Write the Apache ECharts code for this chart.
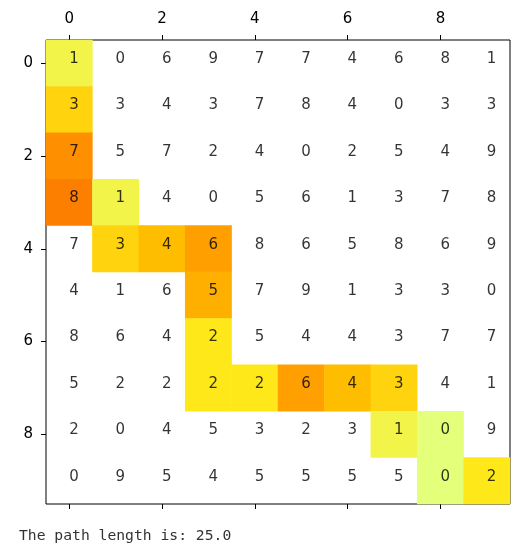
<!DOCTYPE html>
<html>
<head>
<meta charset="utf-8">
<script src="https://cdn.jsdelivr.net/npm/echarts@6/dist/echarts.min.js"></script>
<style>
html,body{margin:0;padding:0;background:#fff;}
#chart{width:526px;height:559px;}
</style>
</head>
<body>
<div id="chart"></div>
<script>
var categories = ['0','1','2','3','4','5','6','7','8','9'];
var gridValues = [
  [1,0,6,9,7,7,4,6,8,1],
  [3,3,4,3,7,8,4,0,3,3],
  [7,5,7,2,4,0,2,5,4,9],
  [8,1,4,0,5,6,1,3,7,8],
  [7,3,4,6,8,6,5,8,6,9],
  [4,1,6,5,7,9,1,3,3,0],
  [8,6,4,2,5,4,4,3,7,7],
  [5,2,2,2,2,6,4,3,4,1],
  [2,0,4,5,3,2,3,1,0,9],
  [0,9,5,4,5,5,5,5,0,2]
];
var pathRows = [0,1,2,3,3,4,4,4,5,6,7,7,7,7,7,8,8,9,9];
var pathCols = [0,0,0,0,1,1,2,3,3,3,3,4,5,6,7,7,8,8,9];
var wistiaColors = ['#e4ff7a','#ffe81a','#ffbd00','#ffa000','#fc7f00'];
var pathLengthText = 'The path length is: 25.0';

var heatData = [];
for (var k = 0; k < pathRows.length; k++) {
  heatData.push([pathCols[k], pathRows[k], gridValues[pathRows[k]][pathCols[k]]]);
}
var textData = [];
for (var r = 0; r < gridValues.length; r++) {
  for (var c = 0; c < gridValues[r].length; c++) {
    textData.push([c, r, gridValues[r][c]]);
  }
}
var pathVals = heatData.map(function(d){return d[2];});
var vmin = Math.min.apply(null, pathVals), vmax = Math.max.apply(null, pathVals);

var chart = echarts.init(document.getElementById('chart'), null, {renderer:'canvas'});
var fontFam = '"DejaVu Sans", sans-serif';
var evenOnly = function(i){ return i % 2 === 0; };
chart.setOption({
  animation: false,
  backgroundColor: '#fff',
  grid: {left: 46, top: 40, width: 464, height: 464, show: true, borderColor: '#000', borderWidth: 1, backgroundColor: 'transparent', containLabel: false},
  xAxis: [
    {type: 'category', data: categories, position: 'top', gridIndex: 0,
     axisLine: {show: false}, splitLine: {show: false},
     axisTick: {show: true, alignWithLabel: true, interval: evenOnly, length: 5, lineStyle: {color: '#000', width: 1}},
     axisLabel: {interval: evenOnly, margin: 13, color: '#000', fontSize: 15, fontFamily: fontFam}},
    {type: 'category', data: categories, position: 'bottom', gridIndex: 0,
     axisLine: {show: false}, splitLine: {show: false},
     axisTick: {show: true, alignWithLabel: true, interval: evenOnly, length: 5, lineStyle: {color: '#000', width: 1}},
     axisLabel: {show: false}}
  ],
  yAxis: [
    {type: 'category', data: categories, inverse: true, position: 'left',
     axisLine: {show: false}, splitLine: {show: false},
     axisTick: {show: true, alignWithLabel: true, interval: evenOnly, length: 5, lineStyle: {color: '#000', width: 1}},
     axisLabel: {interval: evenOnly, margin: 13, color: '#000', fontSize: 15, fontFamily: fontFam}}
  ],
  visualMap: {
    show: false, type: 'continuous', min: vmin, max: vmax, seriesIndex: 0, dimension: 2,
    inRange: {color: wistiaColors}
  },
  series: [
    {type: 'heatmap', data: heatData, xAxisIndex: 0, yAxisIndex: 0, itemStyle: {borderWidth: 0}, emphasis: {disabled: true}, z: 1},
    {type: 'scatter', data: textData, xAxisIndex: 0, yAxisIndex: 0, symbolSize: 1, itemStyle: {color: 'rgba(0,0,0,0)'}, silent: true, z: 5,
     label: {show: true, position: 'inside', align: 'left', verticalAlign: 'middle', offset: [0, -4],
       formatter: function(p){ return String(p.value[2]); },
       color: '#000', fontSize: 15, fontFamily: fontFam}}
  ],
  graphic: [
    {type: 'text', left: 19, top: 529, style: {text: pathLengthText, fill: '#333', font: '14.7px "DejaVu Sans Mono", monospace'}}
  ]
});
</script>
</body>
</html>
